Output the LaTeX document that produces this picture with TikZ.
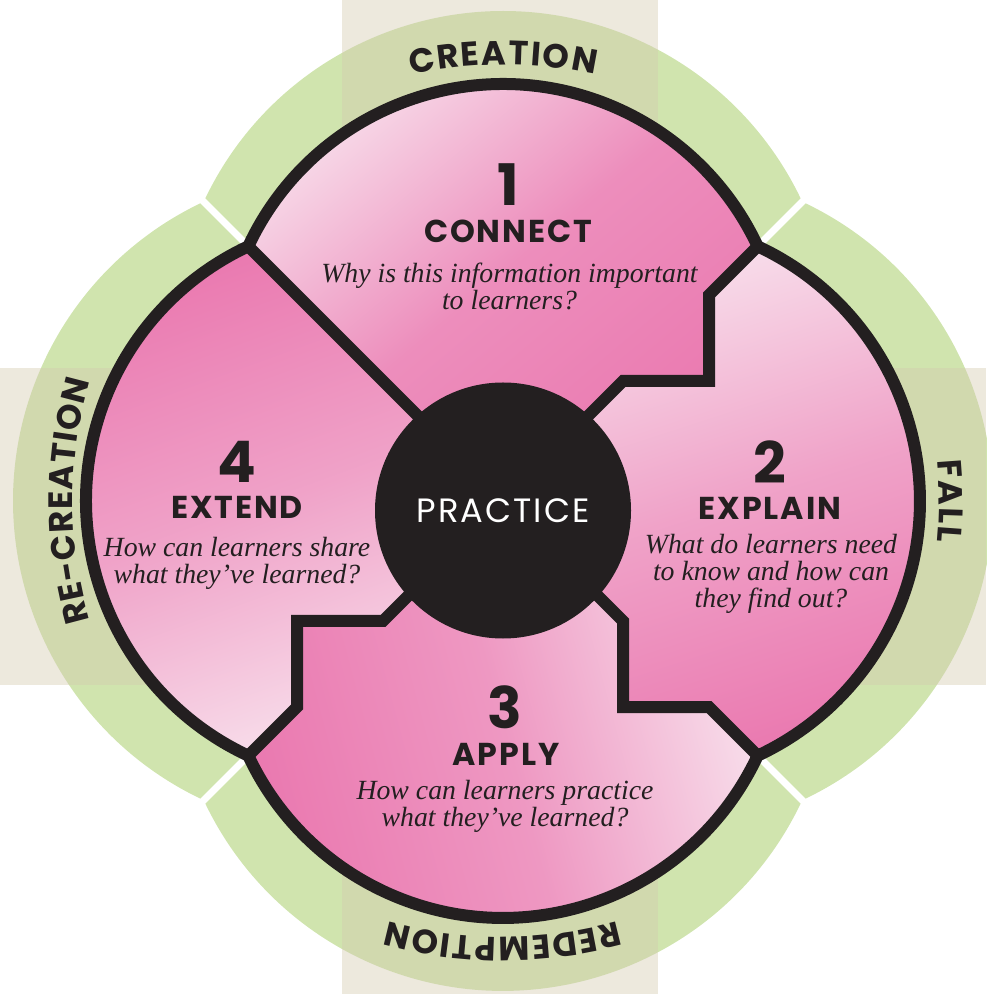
\documentclass[tikz,border=0pt]{standalone}
\usepackage{fontspec}
\usetikzlibrary{decorations.text}
\newfontfamily\popfont{Poppins}
\newfontfamily\popwide{Poppins}[LetterSpace=6]
\newfontfamily\askfont{Liberation Serif}
\definecolor{leafgreen}{HTML}{D0E4AE}
\definecolor{bandtan}{HTML}{D3CAAE}
\definecolor{pinklight}{HTML}{F8E0EC}
\definecolor{pinkdark}{HTML}{EA79B0}
\definecolor{inkblack}{HTML}{231F20}
\begin{document}
\begin{tikzpicture}[
  petaledge/.style={line width=0.12cm, draw=inkblack, line join=miter},
  tanband/.style={fill=bandtan, opacity=0.42},
  gapline/.style={line width=0.07cm, draw=white},
  stagenum/.style={font=\popfont\bfseries\fontsize{16.3}{16.3}\selectfont, text=inkblack, inner sep=0},
  stagename/.style={font=\popwide\bfseries\fontsize{9}{9}\selectfont, text=inkblack, inner sep=0},
  question/.style={font=\askfont\itshape\fontsize{7.9}{7.7}\selectfont, align=center, text=inkblack, inner sep=0},
  ringlabel/.style={decorate, decoration={text along path, text align=center, text color=inkblack,
    text={|\popfont\bfseries\fontsize{9.6}{9.6}\selectfont|#1}}}
]
\useasboundingbox (-5.03,-4.93) rectangle (4.83,5.01);

% Green outer ring
\fill[leafgreen, scale=1.175] (-2.547,2.547) arc[start angle=155, end angle=25, radius=2.81]
  arc[start angle=65, end angle=-65, radius=2.81] arc[start angle=-25, end angle=-155, radius=2.81]
  arc[start angle=245, end angle=115, radius=2.81] -- cycle;

% Tan bands
\fill[tanband] (-1.61,-4.93) rectangle (1.55,5.01);
\fill[tanband] (-5.03,-1.84) rectangle (4.83,1.33);

% Gaps in the ring
\draw[gapline] (2.3,2.3) -- (3.3,3.3);
\draw[gapline] (2.3,-2.3) -- (3.3,-3.3);
\draw[gapline] (-2.3,-2.3) -- (-3.3,-3.3);
\draw[gapline] (-2.3,2.3) -- (-3.3,3.3);

% Petals
\shade[top color=pinklight, bottom color=pinkdark, middle color=pinkdark!80!pinklight, shading angle=40]
  (-2.547,2.547) arc[start angle=155, end angle=25, radius=2.81]
  -- (2.06,2.06) -- (2.06,1.2) -- (1.2,1.2) -- (0,0) -- cycle;
\shade[top color=pinklight, bottom color=pinkdark, middle color=pinkdark!60!pinklight, shading angle=18]
  (2.547,2.547) arc[start angle=65, end angle=-65, radius=2.81]
  -- (2.06,-2.06) -- (1.2,-2.06) -- (1.2,-1.2) -- (0,0) -- (1.2,1.2) -- (2.06,1.2) -- (2.06,2.06) -- cycle;
\shade[top color=pinklight, bottom color=pinkdark, middle color=pinkdark!70!pinklight, shading angle=-75]
  (2.547,-2.547) arc[start angle=-25, end angle=-155, radius=2.81]
  -- (-2.06,-2.06) -- (-2.06,-1.2) -- (-1.2,-1.2) -- (0,0) -- (1.2,-1.2) -- (1.2,-2.06) -- (2.06,-2.06) -- cycle;
\shade[top color=pinkdark, bottom color=pinklight, middle color=pinkdark!60!pinklight, shading angle=20]
  (-2.547,-2.547) arc[start angle=245, end angle=115, radius=2.81]
  -- (0,0) -- (-1.2,-1.2) -- (-2.06,-1.2) -- (-2.06,-2.06) -- cycle;

% Outline and dividers
\draw[petaledge] (-2.547,2.547) arc[start angle=155, end angle=25, radius=2.81]
  arc[start angle=65, end angle=-65, radius=2.81] arc[start angle=-25, end angle=-155, radius=2.81]
  arc[start angle=245, end angle=115, radius=2.81] -- cycle;
\draw[petaledge] (2.547,2.547) -- (2.06,2.06) -- (2.06,1.2) -- (1.2,1.2) -- (0,0);
\draw[petaledge] (2.547,-2.547) -- (2.06,-2.06) -- (1.2,-2.06) -- (1.2,-1.2) -- (0,0);
\draw[petaledge] (-2.547,-2.547) -- (-2.06,-2.06) -- (-2.06,-1.2) -- (-1.2,-1.2) -- (0,0);
\draw[petaledge] (-2.547,2.547) -- (0,0);

% Centre
\node[circle, fill=inkblack, minimum size=2.56cm, inner sep=0, text=white,
  font=\popwide\fontsize{9.6}{9.6}\selectfont] (practice) at (0,-0.095) {PRACTICE};

% Stage 1
\node[stagenum] (num1) at (0.05,3.16) {1};
\node[stagename] (connect) at (0.05,2.70) {CONNECT};
\node[question] (ask1) at (0.065,2.15) {Why is this information important\\to learners?};

% Stage 2
\node[stagenum] (num2) at (2.67,0.39) {2};
\node[stagename] (explain) at (2.67,-0.07) {EXPLAIN};
\node[question] (ask2) at (2.68,-0.73) {What do learners need\\to know and how can\\they find out?};

% Stage 3
\node[stagenum] (num3) at (0.02,-2.06) {3};
\node[stagename] (apply) at (0.03,-2.53) {APPLY};
\node[question] (ask3) at (0.02,-3.05) {How can learners practice\\what they’ve learned?};

% Stage 4
\node[stagenum] (num4) at (-2.66,0.39) {4};
\node[stagename] (extend) at (-2.66,-0.065) {EXTEND};
\node[question] (ask4) at (-2.66,-0.62) {How can learners share\\what they’ve learned?};

% Ring labels
\path[ringlabel={C{\kern.5pt}R{\kern.5pt}E{\kern.5pt}A{\kern.5pt}T{\kern.5pt}I{\kern.5pt}O{\kern.5pt}N}]
  (150:4.36) arc[start angle=150, end angle=30, radius=4.36];
\path[ringlabel={F{\kern.5pt}A{\kern.5pt}L{\kern.5pt}L}]
  (60:4.36) arc[start angle=60, end angle=-60, radius=4.36];
\path[ringlabel={R{\kern.5pt}E{\kern.5pt}D{\kern.5pt}E{\kern.5pt}M{\kern.5pt}P{\kern.5pt}T{\kern.5pt}I{\kern.5pt}O{\kern.5pt}N}]
  (-30:4.36) arc[start angle=-30, end angle=-150, radius=4.36];
\path[ringlabel={R{\kern.3pt}E{\kern.3pt}-{\kern.3pt}C{\kern.3pt}R{\kern.3pt}E{\kern.3pt}A{\kern.3pt}T{\kern.3pt}I{\kern.3pt}O{\kern.3pt}N}]
  (240:4.30) arc[start angle=240, end angle=120, radius=4.30];
\end{tikzpicture}
\end{document}
